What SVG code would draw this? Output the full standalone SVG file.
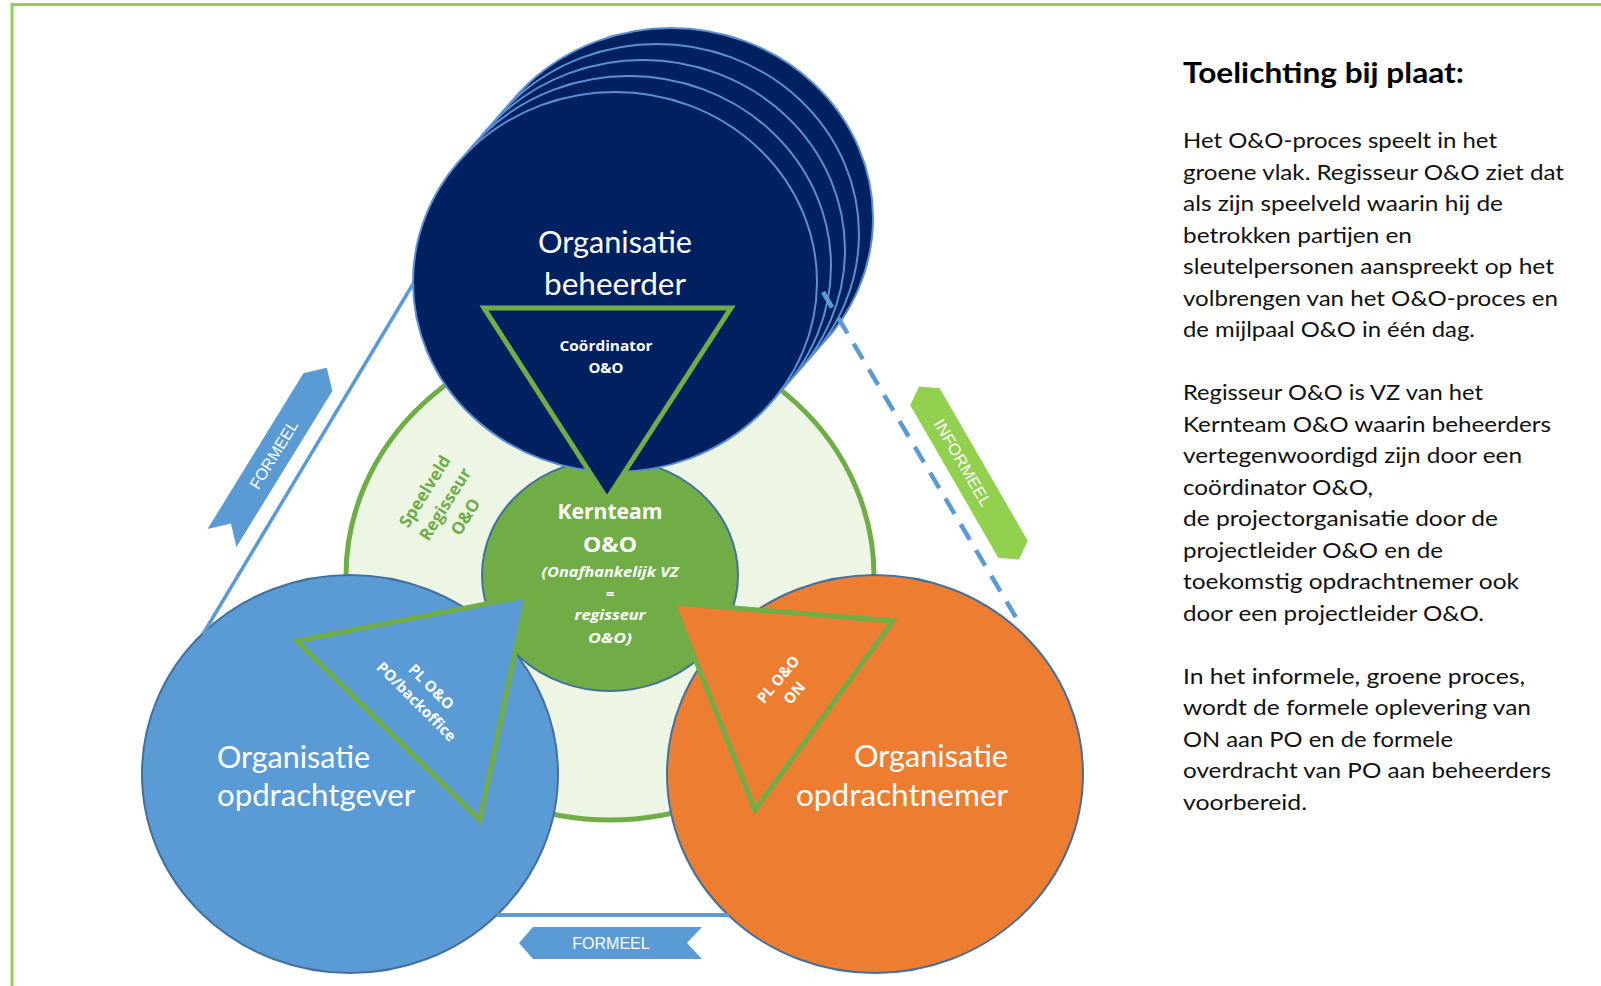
<svg xmlns="http://www.w3.org/2000/svg" width="1601" height="986" viewBox="0 0 1601 986">
<style>
.lab{font-family:Lato,"Open Sans",sans-serif;fill:#fff;font-size:30px}
.sb{font-family:"Open Sans","Noto Sans",sans-serif;font-weight:bold;fill:#fff}
.rib{font-family:"Liberation Sans",Arial,sans-serif;fill:#fff;font-size:16px}
.txt{font-family:Lato,"Open Sans",sans-serif;font-size:21px;fill:#111}
.circ{stroke:#41719c;stroke-width:2}
.navy{fill:#002060;stroke:#5b8fd0;stroke-width:2}
.tri{stroke:#70ad47;stroke-width:5;stroke-linejoin:miter}
</style>
<rect width="1601" height="986" fill="#fff"/>
<g id="frame" fill="none" stroke="#92d050" stroke-width="3">
<line x1="12" y1="4.5" x2="1601" y2="4.5"/>
<line x1="12" y1="3" x2="12" y2="986"/>
</g>
<g id="node-speelveld">
<ellipse cx="610" cy="576" rx="264" ry="244" fill="#edf5e5" stroke="#70ad47" stroke-width="5"/>
<g transform="translate(445,504) rotate(-58)" font-family="'Open Sans','Noto Sans',sans-serif" font-weight="bold" font-size="17" fill="#70ad47" text-anchor="middle">
<text x="0" y="-18">Speelveld</text>
<text x="0" y="6">Regisseur</text>
<text x="0" y="30">O&amp;O</text>
</g>
</g>
<g id="node-kernteam">
<ellipse cx="610" cy="575" rx="128" ry="116" fill="#70ad47" class="circ"/>
</g>
<g id="node-opdrachtgever">
<ellipse cx="350" cy="774" rx="208" ry="199" fill="#5b9bd5" class="circ"/>
</g>
<g id="node-opdrachtnemer">
<ellipse cx="875" cy="774" rx="208" ry="199" fill="#ed7d31" class="circ"/>
</g>
<g id="node-beheerder">
<ellipse cx="671" cy="218" rx="202" ry="190" class="navy"/>
<ellipse cx="657" cy="234" rx="202" ry="190" class="navy"/>
<ellipse cx="643" cy="250" rx="202" ry="190" class="navy"/>
<ellipse cx="629" cy="266" rx="202" ry="190" class="navy"/>
<ellipse cx="615" cy="282" rx="202" ry="190" class="navy"/>
<text class="lab" x="615" y="253" text-anchor="middle" textLength="154" lengthAdjust="spacingAndGlyphs">Organisatie</text>
<text class="lab" x="615" y="295" text-anchor="middle" textLength="142" lengthAdjust="spacingAndGlyphs">beheerder</text>
</g>
<g id="node-coordinator">
<polygon class="tri" points="484,308 731,308 607,499" fill="#002060"/>
<text class="sb" x="606" y="351" font-size="15" text-anchor="middle" textLength="93" lengthAdjust="spacingAndGlyphs">Coördinator</text>
<text class="sb" x="606" y="373" font-size="15" text-anchor="middle">O&amp;O</text>
</g>
<g id="node-pl-po">
<polygon class="tri" points="297,641 527,596 480,820" fill="#5b9bd5"/>
<g transform="translate(424,694) rotate(45)" text-anchor="middle">
<text class="sb" x="0" y="-5" font-size="15">PL O&amp;O</text>
<text class="sb" x="0" y="16" font-size="15">PO/backoffice</text>
</g>
</g>
<g id="node-pl-on">
<polygon class="tri" points="673,603 893,621 755,810" fill="#ed7d31"/>
<g transform="translate(786,686) rotate(-50)" text-anchor="middle">
<text class="sb" x="0" y="-5" font-size="15">PL O&amp;O</text>
<text class="sb" x="0" y="16" font-size="15">ON</text>
</g>
</g>
<g id="kernteam-text" text-anchor="middle">
<text class="sb" x="610" y="519" font-size="21" textLength="105" lengthAdjust="spacingAndGlyphs">Kernteam</text>
<text class="sb" x="610" y="552" font-size="22" textLength="54" lengthAdjust="spacingAndGlyphs">O&amp;O</text>
<text class="sb" x="610" y="577" font-size="15" font-style="italic" textLength="137" lengthAdjust="spacingAndGlyphs">(Onafhankelijk VZ</text>
<text class="sb" x="610" y="599" font-size="15" font-style="italic">=</text>
<text class="sb" x="610" y="620" font-size="15" font-style="italic" textLength="71" lengthAdjust="spacingAndGlyphs">regisseur</text>
<text class="sb" x="610" y="643" font-size="15" font-style="italic" textLength="44" lengthAdjust="spacingAndGlyphs">O&amp;O)</text>
</g>
<g id="labels-orgs">
<text class="lab" x="217" y="768" textLength="153" lengthAdjust="spacingAndGlyphs">Organisatie</text>
<text class="lab" x="217" y="806" textLength="198" lengthAdjust="spacingAndGlyphs">opdrachtgever</text>
<text class="lab" x="1008" y="767" text-anchor="end" textLength="154" lengthAdjust="spacingAndGlyphs">Organisatie</text>
<text class="lab" x="1008" y="806" text-anchor="end" textLength="212" lengthAdjust="spacingAndGlyphs">opdrachtnemer</text>
</g>
<g id="connectors" fill="none" stroke="#5b9bd5">
<line x1="413" y1="284" x2="203" y2="634" stroke-width="3.5"/>
<line x1="497" y1="915" x2="729" y2="915" stroke-width="4"/>
<line x1="823" y1="292" x2="1021" y2="626" stroke-width="4.5" stroke-dasharray="18 12"/>
</g>
<g id="ribbon-formeel-left" transform="translate(222,538) rotate(-58.4)">
<polygon points="0,-17 183,-17 200,0 183,17 0,17 17,0" fill="#5b9bd5"/>
<text class="rib" x="98" y="6" text-anchor="middle">FORMEEL</text>
</g>
<g id="ribbon-formeel-bottom">
<polygon points="519,943 533,927 702,927 687,943 702,959 533,959" fill="#5b9bd5"/>
<text class="rib" x="611" y="949" text-anchor="middle">FORMEEL</text>
</g>
<g id="ribbon-informeel" transform="translate(969,473) rotate(60)">
<polygon points="-100,0 -88,-17 88,-17 100,0 88,17 -88,17" fill="#92d050"/>
<text class="rib" x="-12" y="6" text-anchor="middle" textLength="98" lengthAdjust="spacingAndGlyphs">INFORMEEL</text>
</g>
<g id="toelichting">
<text x="1183" y="83" font-family="Lato,'Open Sans',sans-serif" font-weight="bold" font-size="28" fill="#000" textLength="281" lengthAdjust="spacingAndGlyphs">Toelichting bij plaat:</text>
<text class="txt" x="1183" y="148" textLength="314" lengthAdjust="spacingAndGlyphs">Het O&amp;O-proces speelt in het</text>
<text class="txt" x="1183" y="179.5" textLength="381" lengthAdjust="spacingAndGlyphs">groene vlak. Regisseur O&amp;O ziet dat</text>
<text class="txt" x="1183" y="211" textLength="320" lengthAdjust="spacingAndGlyphs">als zijn speelveld waarin hij de</text>
<text class="txt" x="1183" y="242.5" textLength="229" lengthAdjust="spacingAndGlyphs">betrokken partijen en</text>
<text class="txt" x="1183" y="274" textLength="371" lengthAdjust="spacingAndGlyphs">sleutelpersonen aanspreekt op het</text>
<text class="txt" x="1183" y="305.5" textLength="375" lengthAdjust="spacingAndGlyphs">volbrengen van het O&amp;O-proces en</text>
<text class="txt" x="1183" y="337" textLength="292" lengthAdjust="spacingAndGlyphs">de mijlpaal O&amp;O in één dag.</text>
<text class="txt" x="1183" y="400" textLength="300" lengthAdjust="spacingAndGlyphs">Regisseur O&amp;O is VZ van het</text>
<text class="txt" x="1183" y="431.5" textLength="368" lengthAdjust="spacingAndGlyphs">Kernteam O&amp;O waarin beheerders</text>
<text class="txt" x="1183" y="463" textLength="339" lengthAdjust="spacingAndGlyphs">vertegenwoordigd zijn door een</text>
<text class="txt" x="1183" y="494.5" textLength="190" lengthAdjust="spacingAndGlyphs">coördinator O&amp;O,</text>
<text class="txt" x="1183" y="526" textLength="315" lengthAdjust="spacingAndGlyphs">de projectorganisatie door de</text>
<text class="txt" x="1183" y="557.5" textLength="260" lengthAdjust="spacingAndGlyphs">projectleider O&amp;O en de</text>
<text class="txt" x="1183" y="589" textLength="336" lengthAdjust="spacingAndGlyphs">toekomstig opdrachtnemer ook</text>
<text class="txt" x="1183" y="620.5" textLength="301" lengthAdjust="spacingAndGlyphs">door een projectleider O&amp;O.</text>
<text class="txt" x="1183" y="683.5" textLength="342" lengthAdjust="spacingAndGlyphs">In het informele, groene proces,</text>
<text class="txt" x="1183" y="715" textLength="348" lengthAdjust="spacingAndGlyphs">wordt de formele oplevering van</text>
<text class="txt" x="1183" y="746.5" textLength="270" lengthAdjust="spacingAndGlyphs">ON aan PO en de formele</text>
<text class="txt" x="1183" y="778" textLength="368" lengthAdjust="spacingAndGlyphs">overdracht van PO aan beheerders</text>
<text class="txt" x="1183" y="809.5" textLength="124" lengthAdjust="spacingAndGlyphs">voorbereid.</text>
</g>
</svg>
